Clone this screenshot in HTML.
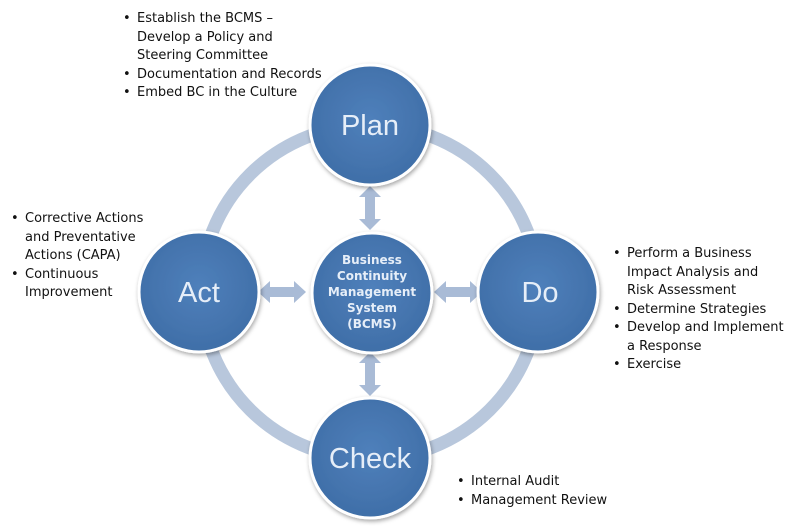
<!DOCTYPE html>
<html><head><meta charset="utf-8"><style>
body{margin:0;width:799px;height:526px;background:#fff;overflow:hidden;position:relative;font-family:"DejaVu Sans","Liberation Sans",sans-serif;}
.t{position:absolute;font-size:13px;line-height:18.5px;color:#111;}
.t ul{margin:0;padding:0 0 0 16px;list-style:none;}
.t li{position:relative;}
.t li:before{content:"•";position:absolute;left:-14px;}
</style></head><body>
<svg width="799" height="526" style="position:absolute;left:0;top:0">
<defs>
<radialGradient id="g" cx="50%" cy="45%" r="60%"><stop offset="0" stop-color="#4f80bb"/><stop offset="1" stop-color="#3e6da6"/></radialGradient>
<filter id="s" x="-20%" y="-20%" width="140%" height="140%"><feDropShadow dx="1" dy="2" stdDeviation="2" flood-color="#000" flood-opacity="0.35"/></filter>
</defs>
<ellipse cx="370" cy="292" rx="169" ry="167" fill="none" stroke="#b8c7dc" stroke-width="13"/>
<g fill="#a9bbd6">
<path d="M370 186 l11 11 h-6 v22 h6 l-11 11 l-11 -11 h6 v-22 h-6 z"/>
<path d="M370 352 l11 11 h-6 v22 h6 l-11 11 l-11 -11 h6 v-22 h-6 z"/>
<path d="M258 292 l12 -11 v6 h24 v-6 l12 11 l-12 11 v-6 h-24 v6 z"/>
<path d="M434 292 l12 -11 v6 h24 v-6 l12 11 l-12 11 v-6 h-24 v6 z"/>
</g>
<g stroke="#fff" stroke-width="3" fill="url(#g)" filter="url(#s)">
<circle cx="370" cy="125" r="60"/>
<circle cx="370" cy="458" r="60"/>
<circle cx="199" cy="292" r="60"/>
<circle cx="538" cy="292" r="60"/>
<circle cx="372" cy="293" r="60"/>
</g>
<g fill="#e6eef8" font-family="Liberation Sans, sans-serif" text-anchor="middle">
<text x="370" y="135" font-size="29">Plan</text>
<text x="370" y="468" font-size="29">Check</text>
<text x="199" y="302" font-size="29">Act</text>
<text x="540" y="302" font-size="29">Do</text>
<g font-size="12" font-weight="bold" font-family="DejaVu Sans, sans-serif"><text x="372" y="264">Business</text><text x="372" y="280">Continuity</text><text x="372" y="296">Management</text><text x="372" y="312">System</text><text x="372" y="328">(BCMS)</text></g>
</g>
</svg>
<div class="t" style="left:121px;top:10px;width:230px"><ul><li>Establish the BCMS –<br>Develop a Policy and<br>Steering Committee</li><li>Documentation and Records</li><li>Embed BC in the Culture</li></ul></div>
<div class="t" style="left:9px;top:210px;width:160px"><ul><li>Corrective Actions<br>and Preventative<br>Actions (CAPA)</li><li>Continuous<br>Improvement</li></ul></div>
<div class="t" style="left:611px;top:245px;width:190px"><ul><li>Perform a Business<br>Impact Analysis and<br>Risk Assessment</li><li>Determine Strategies</li><li>Develop and Implement<br>a Response</li><li>Exercise</li></ul></div>
<div class="t" style="left:455px;top:473px;width:200px"><ul><li>Internal Audit</li><li>Management Review</li></ul></div>
</body></html>
